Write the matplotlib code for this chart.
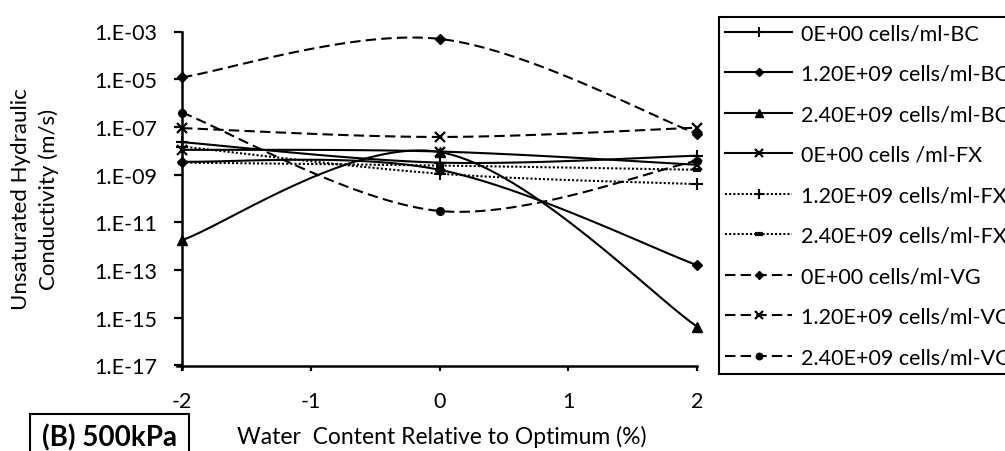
import numpy as np
import matplotlib.pyplot as plt
from matplotlib.lines import Line2D
from matplotlib.patches import Rectangle

plt.rcParams['font.family'] = ['Lato', 'DejaVu Sans']

# water content relative to optimum (%)
water = [-2, 0, 2]

# unsaturated hydraulic conductivity (m/s), 500 kPa
bc_0 = [2.3e-08, 3.2e-09, 6.2e-09]
bc_12 = [3.5e-09, 1.6e-09, 1.6e-13]
bc_24 = [1.8e-12, 8.9e-09, 4.3e-16]
fx_0 = [1.1e-08, 9.3e-09, 2.6e-09]
fx_12 = [1.5e-08, 1.1e-09, 4.0e-10]
fx_24 = [3.2e-09, 2.4e-09, 1.6e-09]
vg_0 = [1.2e-05, 4.9e-04, 5.2e-08]
vg_12 = [8.9e-08, 3.8e-08, 9.3e-08]
vg_24 = [4.0e-07, 3.0e-11, 3.8e-09]

labels = ['0E+00 cells/ml-BC', '1.20E+09 cells/ml-BC', '2.40E+09 cells/ml-BC',
          '0E+00 cells /ml-FX', '1.20E+09 cells/ml-FX', '2.40E+09 cells/ml-FX',
          '0E+00 cells/ml-VG', '1.20E+09 cells/ml-VG', '2.40E+09 cells/ml-VG']

ytick_vals = [1e-3, 1e-5, 1e-7, 1e-9, 1e-11, 1e-13, 1e-15, 1e-17]
ytick_labels = ['1.E-03', '1.E-05', '1.E-07', '1.E-09', '1.E-11', '1.E-13', '1.E-15', '1.E-17']

DOT = (0, (1, 1))
DASH = (0, (5, 2.5))
# (values, linestyle, marker, markersize, markeredgewidth)
styles = [
    (bc_0, '-', '+', 8, 1.5),
    (bc_12, '-', 'D', 5, 1),
    (bc_24, '-', '^', 7, 1),
    (fx_0, '-', 'x', 7, 1.6),
    (fx_12, DOT, '+', 8, 1.5),
    (fx_24, DOT, '_', 6, 3),
    (vg_0, DASH, 'D', 5, 1),
    (vg_12, DASH, 'x', 7, 1.6),
    (vg_24, DASH, 'o', 5.5, 1),
]


def smooth(x, y, n=40):
    # smoothed line like a spreadsheet chart: cubic Bezier per segment, in log10 space
    px = np.asarray(x, float)
    py = np.log10(y)
    last = len(px) - 1
    xs, ys = [], []
    for i in range(last):
        a = max(i - 1, 0)
        b = min(i + 2, last)
        c1 = (px[i] + (px[i + 1] - px[a]) / 6, py[i] + (py[i + 1] - py[a]) / 6)
        c2 = (px[i + 1] - (px[b] - px[i]) / 6, py[i + 1] - (py[b] - py[i]) / 6)
        t = np.linspace(0, 1, n, endpoint=(i == last - 1))
        k0, k1, k2, k3 = (1 - t) ** 3, 3 * (1 - t) ** 2 * t, 3 * (1 - t) * t ** 2, t ** 3
        xs.append(k0 * px[i] + k1 * c1[0] + k2 * c2[0] + k3 * px[i + 1])
        ys.append(k0 * py[i] + k1 * c1[1] + k2 * c2[1] + k3 * py[i + 1])
    return np.concatenate(xs), 10 ** np.concatenate(ys)


W, H = 1005, 452
fig = plt.figure(figsize=(W / 100, H / 100), dpi=100)
ax = fig.add_axes([182 / W, 1 - 366.5 / H, (697 - 182) / W, (366.5 - 32.5) / H])

handles = []
for (vals, ls, mk, ms, mew), lab in zip(styles, labels):
    sx, sy = smooth(water, vals)
    ax.plot(sx, sy, color='black', lw=1.5, ls=ls, clip_on=False, zorder=2)
    ax.plot(water, vals, ls='none', marker=mk, ms=ms, mew=mew, color='black',
            clip_on=False, zorder=3)
    handles.append(Line2D([], [], color='black', lw=1.5, ls=ls, marker=mk,
                          ms=ms * 0.85, mew=mew))

ax.set_yscale('log')
ax.set_ylim(1e-17, 1e-3)
ax.set_xlim(-2, 2)
ax.set_yticks(ytick_vals)
ax.set_yticklabels(ytick_labels)
ax.yaxis.set_minor_locator(plt.NullLocator())
ax.set_xticks([-2, -1, 0, 1, 2])
ax.set_xticklabels(['-2', '-1', '0', '1', '2'])

for side in ['top', 'right']:
    ax.spines[side].set_visible(False)
for side in ['left', 'bottom']:
    ax.spines[side].set_linewidth(1.8)
# axes cross a little past the origin corner
ax.spines['left'].set_bounds(6.8e-18, 1e-3)
ax.spines['bottom'].set_bounds(-2.04, 2)
ax.tick_params(axis='y', direction='out', length=6, width=1.6, pad=12, labelsize=15.5)
ax.tick_params(axis='x', direction='out', length=3.5, width=1.6, pad=15, labelsize=15.5)

fig.text(35 / W, 1 - 199.5 / H, 'Unsaturated Hydraulic\nConductivity (m/s)', rotation=90,
         ha='center', va='center', multialignment='center', fontsize=16, linespacing=1.45)
fig.text(442 / W, 1 - 437 / H, 'Water  Content Relative to Optimum (%)',
         ha='center', va='center', fontsize=16.5)

fig.patches.append(Rectangle((30 / W, 1 - 480 / H), 159 / W, 65 / H, transform=fig.transFigure,
                             fill=False, edgecolor='black', lw=1.5))
fig.text(109 / W, 1 - 438 / H, '(B) 500kPa', ha='center', va='center',
         fontsize=20, fontweight='bold')

leg = fig.legend(handles, labels, loc='upper left', bbox_to_anchor=(719 / W, 1 - 18 / H),
                 borderaxespad=0, fontsize=15.5, frameon=True, fancybox=False,
                 edgecolor='black', framealpha=1, handlelength=3.1, handletextpad=0.4,
                 labelspacing=0.95, borderpad=0.3, numpoints=1)
leg.get_frame().set_linewidth(1.5)

fig.savefig('out.png', dpi=100)
